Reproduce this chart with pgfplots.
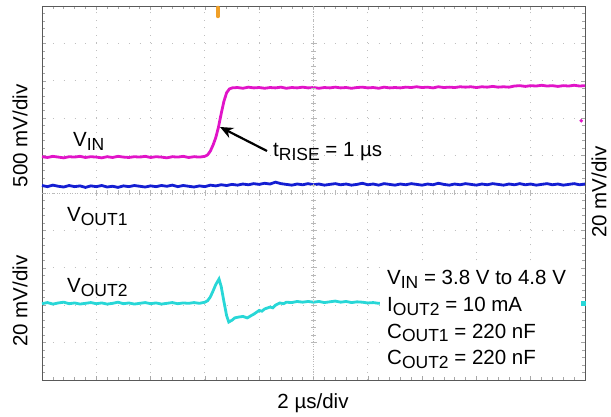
\documentclass[border=0pt]{standalone}
\usepackage{pgfplots}
\pgfplotsset{compat=1.18}
\usepackage{fontspec}
\setmainfont{Liberation Sans}
\usetikzlibrary{arrows.meta}
\definecolor{cmag}{RGB}{225,20,200}
\definecolor{cblu}{RGB}{20,30,210}
\definecolor{ccya}{RGB}{40,215,215}
\definecolor{corg}{RGB}{240,160,40}
\newcommand\sub[1]{\raisebox{-3.5pt}{\fontsize{17.5}{17.5}\selectfont #1}}
\begin{document}
\begin{tikzpicture}[lab/.style={font=\fontsize{20.5}{24}\selectfont, inner sep=0pt}]
\useasboundingbox (0,0) rectangle (611pt,417pt);
\begin{axis}[
  at={(42pt,37pt)}, anchor=south west,
  scale only axis, width=543pt, height=374pt,
  xmin=0, xmax=10, ymin=0, ymax=10,
  xtick={0,...,10}, ytick={0,...,10},
  xticklabels={}, yticklabels={},
  minor tick num=4, tick align=inside,
  major tick length=4pt, minor tick length=3pt,
  tick style={gray!70, line width=0.5pt},
  grid=major,
  x grid style={gray!50, line width=0.9pt, dash pattern=on 1pt off 6.48pt},
  y grid style={gray!50, line width=0.9pt, dash pattern=on 1pt off 9.86pt},
  axis line style={draw=gray!70!black, line width=0.8pt},
  clip=false,
]
% VIN
\addplot[cmag, line width=2.8pt] coordinates {
(0.0,5.97)(0.1,5.95)(0.2,5.98)(0.3,5.96)(0.4,5.94)(0.5,5.97)(0.6,5.96)(0.7,5.98)(0.8,5.95)(0.9,5.97)
(1.0,5.96)(1.1,5.94)(1.2,5.97)(1.3,5.95)(1.4,5.98)(1.5,5.96)(1.6,5.95)(1.7,5.97)(1.8,5.96)(1.9,5.98)
(2.0,5.95)(2.1,5.97)(2.2,5.96)(2.3,5.94)(2.4,5.97)(2.5,5.96)(2.6,5.98)(2.7,5.95)(2.8,5.97)(2.9,5.96)
(3.0,5.98)(3.05,6.02)(3.10,6.12)(3.15,6.28)(3.20,6.48)(3.25,6.76)(3.30,7.12)(3.35,7.45)(3.40,7.68)(3.45,7.78)
(3.50,7.81)(3.6,7.82)(3.7,7.80)(3.8,7.83)(3.9,7.81)(4.0,7.82)(4.1,7.80)(4.2,7.82)(4.3,7.81)(4.4,7.83)
(4.5,7.80)(4.6,7.82)(4.7,7.81)(4.8,7.83)(4.9,7.81)(5.0,7.82)(5.1,7.80)(5.2,7.82)(5.3,7.81)(5.4,7.83)
(5.5,7.81)(5.6,7.82)(5.7,7.80)(5.8,7.82)(5.9,7.83)(6.0,7.81)(6.1,7.82)(6.2,7.80)(6.3,7.83)(6.4,7.81)
(6.5,7.82)(6.6,7.81)(6.7,7.83)(6.8,7.82)(6.9,7.84)(7.0,7.82)(7.1,7.83)(7.2,7.81)(7.3,7.84)(7.4,7.82)
(7.5,7.83)(7.6,7.82)(7.7,7.84)(7.8,7.83)(7.9,7.84)(8.0,7.82)(8.1,7.84)(8.2,7.83)(8.3,7.85)(8.4,7.83)
(8.5,7.84)(8.6,7.83)(8.7,7.86)(8.8,7.87)(8.9,7.85)(9.0,7.87)(9.1,7.86)(9.2,7.88)(9.3,7.86)(9.4,7.87)
(9.5,7.85)(9.6,7.87)(9.7,7.86)(9.8,7.88)(9.9,7.86)(10.0,7.87)};
% VOUT1
\addplot[cblu, line width=2.8pt] coordinates {
(0.0,5.20)(0.1,5.17)(0.2,5.21)(0.3,5.18)(0.4,5.16)(0.5,5.20)(0.6,5.17)(0.7,5.19)(0.8,5.15)(0.9,5.19)
(1.0,5.17)(1.1,5.20)(1.2,5.16)(1.3,5.18)(1.4,5.15)(1.5,5.19)(1.6,5.17)(1.7,5.20)(1.8,5.18)(1.9,5.16)
(2.0,5.19)(2.1,5.17)(2.2,5.20)(2.3,5.18)(2.4,5.21)(2.5,5.17)(2.6,5.20)(2.7,5.18)(2.8,5.16)(2.9,5.19)
(3.0,5.17)(3.1,5.21)(3.2,5.19)(3.3,5.22)(3.4,5.20)(3.5,5.23)(3.6,5.21)(3.7,5.24)(3.8,5.22)(3.9,5.25)
(4.0,5.23)(4.1,5.26)(4.2,5.24)(4.3,5.29)(4.4,5.25)(4.5,5.23)(4.6,5.21)(4.7,5.24)(4.8,5.22)(4.9,5.25)
(5.0,5.22)(5.1,5.24)(5.2,5.21)(5.3,5.23)(5.4,5.25)(5.5,5.22)(5.6,5.24)(5.7,5.21)(5.8,5.23)(5.9,5.26)
(6.0,5.22)(6.1,5.24)(6.2,5.21)(6.3,5.25)(6.4,5.23)(6.5,5.21)(6.6,5.24)(6.7,5.22)(6.8,5.25)(6.9,5.23)
(7.0,5.21)(7.1,5.24)(7.2,5.22)(7.3,5.26)(7.4,5.23)(7.5,5.21)(7.6,5.24)(7.7,5.22)(7.8,5.25)(7.9,5.23)
(8.0,5.21)(8.1,5.24)(8.2,5.22)(8.3,5.25)(8.4,5.23)(8.5,5.21)(8.6,5.24)(8.7,5.22)(8.8,5.25)(8.9,5.22)
(9.0,5.24)(9.1,5.21)(9.2,5.23)(9.3,5.25)(9.4,5.22)(9.5,5.24)(9.6,5.21)(9.7,5.23)(9.8,5.25)(9.9,5.22)(10.0,5.24)};
% VOUT2
\addplot[ccya, line width=2.8pt] coordinates {
(0.0,2.04)(0.1,2.07)(0.2,2.03)(0.3,2.06)(0.4,2.08)(0.5,2.04)(0.6,2.06)(0.7,2.03)(0.8,2.05)(0.9,2.07)
(1.0,2.04)(1.1,2.06)(1.2,2.03)(1.3,2.05)(1.4,2.08)(1.5,2.04)(1.6,2.06)(1.7,2.03)(1.8,2.05)(1.9,2.07)
(2.0,2.04)(2.1,2.06)(2.2,2.03)(2.3,2.05)(2.4,2.07)(2.5,2.04)(2.6,2.06)(2.7,2.05)(2.8,2.07)(2.9,2.05)
(3.0,2.08)(3.05,2.12)(3.1,2.22)(3.15,2.38)(3.2,2.55)(3.26,2.70)(3.30,2.50)(3.35,2.10)(3.40,1.72)(3.44,1.55)
(3.50,1.60)(3.55,1.66)(3.61,1.68)(3.7,1.70)(3.78,1.66)(3.85,1.72)(3.9,1.76)(4.0,1.86)(4.05,1.84)(4.1,1.90)
(4.2,1.95)(4.25,1.93)(4.3,2.00)(4.38,2.06)(4.45,2.04)(4.5,2.08)(4.6,2.07)(4.7,2.10)(4.8,2.08)(4.9,2.10)
(5.0,2.08)(5.1,2.10)(5.2,2.07)(5.3,2.09)(5.4,2.11)(5.5,2.08)(5.6,2.10)(5.7,2.07)(5.8,2.09)(5.9,2.08)
(6.0,2.06)(6.1,2.07)(6.2,2.05)(6.3,2.06)};
% channel markers
\addplot[cmag, only marks, mark=*, mark size=1.6pt] coordinates {(9.93,6.93)};
\addplot[ccya, only marks, mark=square*, mark size=2.2pt] coordinates {(9.97,2.05)};
\addplot[corg, line width=3.5pt, line cap=round] coordinates {(3.24,9.96)(3.24,9.72)};
\end{axis}
% center cross with ticks
\begin{axis}[
  at={(42pt,37pt)}, anchor=south west,
  scale only axis, width=543pt, height=374pt,
  xmin=-5, xmax=5, ymin=-5, ymax=5,
  axis lines=center,
  axis line style={-, gray!55, line width=0.8pt, dash pattern=on 1pt off 1.5pt},
  xtick={-4,...,4}, ytick={-4,...,4},
  xticklabels={}, yticklabels={},
  minor tick num=4, tick align=center,
  major tick length=6pt, minor tick length=5pt,
  tick style={gray!55, line width=0.6pt},
]
\addplot[draw=none] coordinates {(0,0)};
\end{axis}
% white text box
\fill[white] (380pt,44pt) rectangle (578pt,154pt);
% labels
\node[lab, anchor=base west] at (73pt,270pt) {V\sub{IN}};
\node[lab, anchor=base west] at (67pt,195pt) {V\sub{OUT1}};
\node[lab, anchor=base west] at (67pt,124pt) {V\sub{OUT2}};
\node[lab, anchor=base west] at (273pt,260pt) {t\sub{RISE} = 1 µs};
\draw[black, line width=2.2pt, -{Stealth[length=13pt,width=11pt]}] (267pt,266pt) -- (220pt,290pt);
\node[lab, anchor=base west] at (387pt,132pt) {V\sub{IN} = 3.8 V to 4.8 V};
\node[lab, anchor=base west] at (387pt,105.3pt) {I\sub{OUT2} = 10 mA};
\node[lab, anchor=base west] at (387pt,78.5pt) {C\sub{OUT1} = 220 nF};
\node[lab, anchor=base west] at (387pt,52pt) {C\sub{OUT2} = 220 nF};
\node[lab, rotate=90] at (20pt,281pt) {500 mV/div};
\node[lab, rotate=90] at (20pt,116pt) {20 mV/div};
\node[lab, rotate=90] at (599pt,225pt) {20 mV/div};
\node[lab, anchor=base] at (313pt,8pt) {2 µs/div};
\end{tikzpicture}
\end{document}
